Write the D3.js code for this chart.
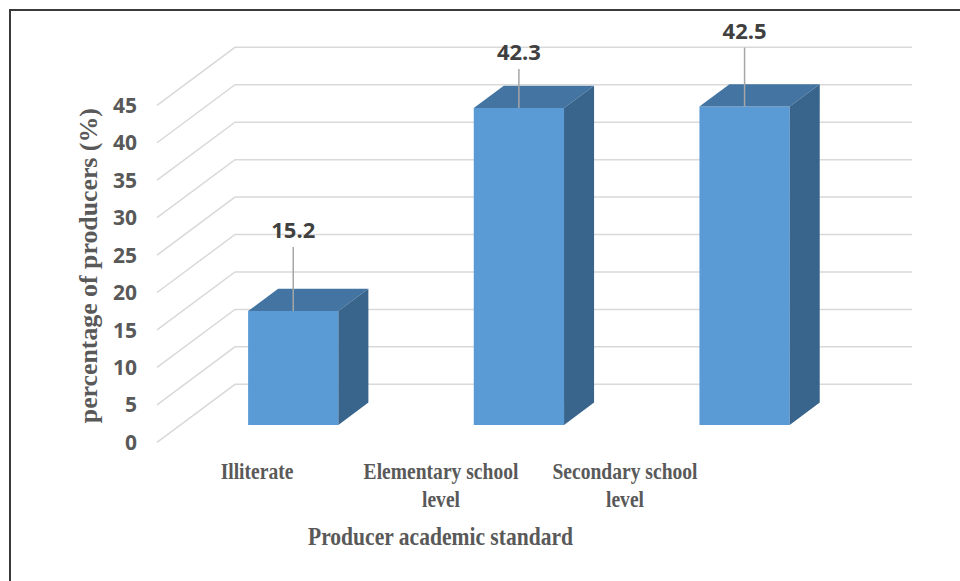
<!DOCTYPE html>
<html lang="en">
<head>
    <meta charset="UTF-8">
    <title>Producer academic standard</title>
    <style>
        body { margin: 0; background: #fff; }
        .grid { fill: none; stroke: #d9d9d9; stroke-width: 1.5px; }
        .tick-label { font-family: "Open Sans", sans-serif; font-weight: bold; font-size: 21px; fill: #595959; }
        .value-label { font-family: "Open Sans", sans-serif; font-weight: bold; font-size: 22px; fill: #404040; }
        .serif { font-family: "Liberation Serif", "Times New Roman", serif; font-weight: bold; fill: #595959; }
    </style>
</head>
<body>
<div id="chart"></div>
<script src="https://d3js.org/d3.v7.min.js"></script>
<script>
    // data
    const categories = ["Illiterate", "Elementary school level", "Secondary school level"];
    const categoryLines = [["Illiterate"], ["Elementary school", "level"], ["Secondary school", "level"]];
    const values = [15.2, 42.3, 42.5];
    const yTicks = [0, 5, 10, 15, 20, 25, 30, 35, 40, 45];

    // where the data labels were dragged to (px above the bar top)
    const labelRaise = [81, 56, 76];

    const width = 960, height = 581;

    const svg = d3.select("#chart").append("svg")
        .attr("width", width)
        .attr("height", height);

    // outer frame (only top and left edges show)
    svg.append("rect")
        .attr("x", 10).attr("y", 10)
        .attr("width", 980).attr("height", 600)
        .attr("fill", "none")
        .attr("stroke", "#3a3a3a")
        .attr("stroke-width", 2);

    // scales: y on the front plane, z is the depth (0 = front, 1 = back wall)
    const y = d3.scaleLinear().domain([0, 45]).range([442.3, 105.3]);
    const x = d3.scaleBand().domain(categories).range([157, 834])
        .paddingInner(0.6).paddingOuter(0.3);
    const dx = d3.scaleLinear().domain([0, 1]).range([0, 78]);
    const dz = d3.scaleLinear().domain([0, 1]).range([0, -58]);
    const barFront = 0.3, barBack = 0.685;

    const p = (xv, v, z) => [xv + dx(z), y(v) + dz(z)];
    const poly = pts => pts.map(q => q.join(",")).join(" ");

    // gridlines: diagonal on the side wall then along the back wall
    const [x0, x1] = x.range();
    svg.selectAll(".grid")
        .data(yTicks)
      .enter().append("path")
        .attr("class", "grid")
        .attr("d", t => d3.line()([p(x0, t, 0), p(x0, t, 1), p(x1, t, 1)]));

    // y tick labels
    svg.selectAll(".tick-label")
        .data(yTicks)
      .enter().append("text")
        .attr("class", "tick-label")
        .attr("x", 137)
        .attr("y", t => y(t))
        .attr("dy", "0.36em")
        .attr("text-anchor", "end")
        .text(t => t);

    // bars
    const bars = svg.selectAll(".bar")
        .data(categories.map((c, i) => ({ c, v: values[i], i })))
      .enter().append("g")
        .attr("class", "bar");

    bars.append("polygon")
        .attr("fill", "#5b9bd5")
        .attr("points", d => {
            const a = x(d.c), b = a + x.bandwidth();
            return poly([p(a, 0, barFront), p(b, 0, barFront), p(b, d.v, barFront), p(a, d.v, barFront)]);
        });
    bars.append("polygon")
        .attr("fill", "#4374a2")
        .attr("points", d => {
            const a = x(d.c), b = a + x.bandwidth();
            return poly([p(a, d.v, barFront), p(b, d.v, barFront), p(b, d.v, barBack), p(a, d.v, barBack)]);
        });
    bars.append("polygon")
        .attr("fill", "#39648b")
        .attr("points", d => {
            const b = x(d.c) + x.bandwidth();
            return poly([p(b, 0, barFront), p(b, 0, barBack), p(b, d.v, barBack), p(b, d.v, barFront)]);
        });

    // data labels with leader lines
    const cx = d => x(d.c) + x.bandwidth() / 2 + dx(barFront);
    const topY = d => y(d.v) + dz(barFront);

    bars.append("line")
        .attr("x1", cx).attr("x2", cx)
        .attr("y1", topY)
        .attr("y2", d => topY(d) - labelRaise[d.i] + 17)
        .attr("stroke", "#a6a6a6")
        .attr("stroke-width", 1.5);

    bars.append("text")
        .attr("class", "value-label")
        .attr("x", cx)
        .attr("y", d => topY(d) - labelRaise[d.i])
        .attr("dy", "0.36em")
        .attr("text-anchor", "middle")
        .text(d => d.v.toFixed(1));

    // category labels (narrow serif)
    const xl = d3.scalePoint().domain(categories).range([257, 625]);
    categories.forEach((c, i) => {
        categoryLines[i].forEach((line, j) => {
            const t = svg.append("text")
                .attr("class", "serif")
                .attr("font-size", 23)
                .attr("x", xl(c))
                .attr("y", 479 + j * 28)
                .attr("text-anchor", "middle")
                .text(line);
            const w = t.node().getComputedTextLength();
            t.attr("textLength", w * 0.85).attr("lengthAdjust", "spacingAndGlyphs");
        });
    });

    // axis titles
    svg.append("text")
        .attr("class", "serif")
        .attr("font-size", 26)
        .attr("x", 440.5)
        .attr("y", 545)
        .attr("text-anchor", "middle")
        .attr("textLength", 265)
        .attr("lengthAdjust", "spacingAndGlyphs")
        .text("Producer academic standard");

    svg.append("text")
        .attr("class", "serif")
        .attr("font-size", 25)
        .attr("transform", "translate(97,265.7) rotate(-90)")
        .attr("text-anchor", "middle")
        .attr("textLength", 315)
        .attr("lengthAdjust", "spacingAndGlyphs")
        .text("percentage  of producers  (%)");
</script>
</body>
</html>
